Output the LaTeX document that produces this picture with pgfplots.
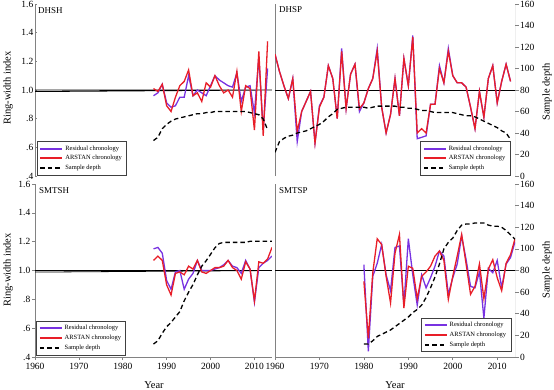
\documentclass[border=0pt]{standalone}
\usepackage{fontspec}
\setmainfont{Liberation Serif}
\usepackage{pgfplots}
\pgfplotsset{compat=1.18}
\usepackage{pgfplotstable}
\definecolor{purp}{RGB}{120,50,225}
\definecolor{redl}{RGB}{232,30,40}
\definecolor{axg}{RGB}{130,130,130}

\pgfplotstableread{
year ars res
1987 1.01 0.96
1988 0.99 0.98
1989 1.04 1.04
1990 0.89 0.91
1991 0.85 0.88
1992 0.95 0.89
1993 1.03 0.95
1994 1.06 0.95
1995 1.14 1.10
1996 0.96 0.96
1997 0.98 1.00
1998 0.92 0.98
1999 1.05 0.96
2000 1.02 1.03
2001 1.10 1.10
2002 1.03 1.07
2003 0.98 1.05
2004 1.00 1.03
2005 0.95 1.02
2006 1.13 1.12
2007 0.85 0.92
2008 1.03 1.02
2009 1.01 1.03
2010 0.72 0.84
2011 1.27 1.23
2012 0.68 0.72
2013 1.34 1.15
}\dhsh
\pgfplotstableread{
year depth
1987 33
1988 36
1989 44
1990 48
1991 51
1992 53
1993 54
1994 55
1995 56
1996 57
1997 58
1998 58
1999 59
2000 59
2001 60
2002 60
2003 60
2004 60
2005 60
2006 60
2007 60
2008 60
2009 59
2010 58
2011 57
2012 53
2013 43
}\dhshd
\pgfplotstableread{
year ars res
1960 1.25 1.25
1961 1.13 1.13
1962 1.03 1.03
1963 0.94 0.94
1964 1.08 1.08
1965 0.71 0.64
1966 0.85 0.85
1967 0.92 0.92
1968 0.99 0.99
1969 0.63 0.63
1970 0.88 0.89
1971 0.95 0.95
1972 1.17 1.17
1973 1.08 1.08
1974 0.80 0.80
1975 1.27 1.29
1976 0.87 0.87
1977 1.11 1.11
1978 1.18 1.18
1979 0.87 0.85
1980 0.91 0.91
1981 1.01 1.01
1982 1.08 1.08
1983 1.27 1.29
1984 0.88 0.88
1985 0.70 0.70
1986 0.83 0.83
1987 1.08 1.08
1988 0.82 0.82
1989 1.22 1.22
1990 1.03 1.03
1991 1.37 1.38
1992 0.70 0.66
1993 0.73 0.67
1994 0.70 0.68
1995 0.90 0.90
1996 0.90 0.90
1997 1.15 1.17
1998 1.05 1.05
1999 1.27 1.29
2000 1.10 1.10
2001 1.05 1.05
2002 1.05 1.05
2003 1.02 1.02
2004 0.88 0.88
2005 0.73 0.73
2006 0.99 0.99
2007 0.81 0.81
2008 1.08 1.08
2009 1.17 1.17
2010 0.91 0.91
2011 1.06 1.06
2012 1.18 1.18
2013 1.06 1.06
}\dhsp
\pgfplotstableread{
year depth
1960 22
1961 32
1962 35
1963 37
1964 38
1965 40
1966 41
1967 42
1968 44
1969 46
1970 48
1971 51
1972 55
1973 58
1974 62
1975 63
1976 64
1977 64
1978 64
1979 64
1980 64
1981 63
1982 64
1983 65
1984 65
1985 65
1986 65
1987 65
1988 64
1989 64
1990 63
1991 63
1992 62
1993 61
1994 61
1995 60
1996 59
1997 59
1998 59
1999 59
2000 59
2001 58
2002 57
2003 56
2004 56
2005 55
2006 53
2007 51
2008 49
2009 47
2010 45
2011 42
2012 40
2013 34
}\dhspd
\pgfplotstableread{
year ars res
1987 1.07 1.15
1988 1.10 1.16
1989 1.07 1.12
1990 0.90 0.93
1991 0.83 0.87
1992 0.98 0.99
1993 0.99 1.00
1994 0.97 0.87
1995 1.03 0.94
1996 1.01 0.98
1997 1.07 1.07
1998 0.99 1.00
1999 0.98 1.00
2000 1.00 1.00
2001 1.02 1.01
2002 1.02 1.02
2003 1.03 1.04
2004 1.07 1.07
2005 1.02 1.03
2006 1.00 1.02
2007 0.94 0.98
2008 1.06 1.07
2009 1.01 1.01
2010 0.79 0.78
2011 1.06 1.02
2012 1.05 1.05
2013 1.08 1.07
2014 1.16 1.10
}\smtsh
\pgfplotstableread{
year depth
1987 12
1988 15
1989 22
1990 28
1991 32
1992 37
1993 42
1994 52
1995 60
1996 67
1997 76
1998 84
1999 89
2000 95
2001 101
2002 105
2003 106
2004 106
2005 106
2006 106
2007 106
2008 106
2009 107
2010 107
2011 107
2012 107
2013 107
2014 107
}\smtshd
\pgfplotstableread{
year ars res
1980 0.925 1.04
1981 0.53 0.44
1982 0.985 0.96
1983 1.22 1.05
1984 1.18 1.18
1985 0.96 0.97
1986 0.775 0.86
1987 1.12 1.16
1988 1.25 1.17
1989 0.74 0.76
1990 1.03 1.22
1991 1.015 0.97
1992 0.805 0.76
1993 0.96 0.97
1994 0.99 0.88
1995 1.03 0.95
1996 1.10 1.03
1997 1.135 1.135
1998 1.07 1.10
1999 0.80 0.835
2000 0.96 0.95
2001 1.10 1.045
2002 1.25 1.24
2003 1.045 1.075
2004 0.835 0.89
2005 0.89 0.88
2006 1.045 0.99
2007 0.805 0.67
2008 1.01 1.015
2009 1.075 0.985
2010 0.95 1.07
2011 0.86 0.88
2012 1.05 1.045
2013 1.11 1.09
2014 1.22 1.20
}\smtsp
\pgfplotstableread{
year depth
1980 12
1981 12
1982 15
1983 19
1984 21
1985 23
1986 25
1987 28
1988 31
1989 34
1990 37
1991 41
1992 44
1993 48
1994 55
1995 64
1996 74
1997 86
1998 100
1999 106
2000 110
2001 117
2002 122
2003 123
2004 123
2005 124
2006 124
2007 124
2008 122
2009 121
2010 121
2011 120
2012 117
2013 113
2014 109
}\smtspd

\pgfplotsset{
  legend image code/.code={\draw[#1] (0bp,0bp) -- (22bp,0bp);},
  legend cell align=left,
  every axis legend/.append style={font=\fontsize{6.5}{7.5}\selectfont, draw=black!75,
      inner xsep=2.5bp, inner ysep=2bp, row sep=-0.3bp,
      /tikz/every even column/.append style={column sep=4bp}},
  base/.style={scale only axis, xmin=1960, xmax=2014,
    axis line style={draw=none},
    tick style={axg, line width=0.6bp},
    ticklabel style={font=\fontsize{9.5}{10}\selectfont},
    /pgf/number format/assume math mode=true,
    /pgf/number format/1000 sep={}},
  idx/.style={base, ymin=0.4, ymax=1.6},
  dep/.style={base, ymin=0, ymax=160, xtick=\empty},
  lefty/.style={ytick={0.4,0.6,...,1.61}, yticklabels={.4,.6,.8,1.0,1.2,1.4,1.6},
    ytick pos=left, tick align=inside, major tick length=2bp,
    yticklabel style={inner sep=1.5bp}},
  righty/.style={ytick={0,20,...,160}, ytick pos=right, yticklabel pos=right,
    tick align=outside, major tick length=3.5bp, yticklabel style={inner sep=1.5bp}},
  botx/.style={xtick={1960,1970,...,2010}, xtick pos=bottom, tick align=outside, major tick length=3bp},
}

\begin{document}
\begin{tikzpicture}
\path[use as bounding box] (0,0) rectangle (554bp,-390bp);

% ---------------- DHSH (top-left)
\begin{axis}[idx, lefty, xtick=\empty, at={(35bp,-4bp)}, anchor=north west, width=237bp, height=172bp]
\draw[axg, line width=0.7bp] (rel axis cs:0,0) -- (rel axis cs:0,1);
\draw[axg, line width=0.7bp] (rel axis cs:1,0) -- (rel axis cs:1,1);
\draw[black, line width=0.8bp] (axis cs:1960,1) -- (axis cs:2014,1) -- ++(3bp,0);
\addplot[purp, line width=1.3bp, no marks] table[x=year, y=res] {\dhsh};
\addplot[redl, line width=1.3bp, no marks] table[x=year, y=ars] {\dhsh};
\end{axis}
\begin{axis}[dep, ytick=\empty, legend style={at={(0.008,0.005)}, anchor=south west},
  at={(35bp,-4bp)}, anchor=north west, width=237bp, height=172bp]
\addlegendimage{purp, line width=1.8bp}\addlegendentry{Residual chronology}
\addlegendimage{redl, line width=1.8bp}\addlegendentry{ARSTAN chronology}
\addplot[black, line width=1.3bp, no marks, dash pattern=on 4.5bp off 3bp,
  forget plot] table[x=year, y=depth] {\dhshd};
\addlegendimage{black, line width=1.8bp, dash pattern=on 4.5bp off 3bp}
\addlegendentry{Sample depth}
\end{axis}

% ---------------- DHSP (top-right)
\begin{axis}[idx, ytick=\empty, xtick=\empty, at={(275bp,-4bp)}, anchor=north west, width=240bp, height=172bp]
\draw[axg, line width=0.7bp] (rel axis cs:0,0) -- (rel axis cs:0,1);
\draw[axg, line width=0.7bp] (rel axis cs:1,0) -- (rel axis cs:1,1);
\draw[black, line width=0.8bp] (axis cs:1960,1) -- (axis cs:2014,1);
\addplot[purp, line width=1.3bp, no marks] table[x=year, y=res] {\dhsp};
\addplot[redl, line width=1.3bp, no marks] table[x=year, y=ars] {\dhsp};
\end{axis}
\begin{axis}[dep, righty, legend style={at={(0.979,0.005)}, anchor=south east},
  at={(275bp,-4bp)}, anchor=north west, width=240bp, height=172bp]
\addlegendimage{purp, line width=1.8bp}\addlegendentry{Residual chronology}
\addlegendimage{redl, line width=1.8bp}\addlegendentry{ARSTAN chronology}
\addplot[black, line width=1.3bp, no marks, dash pattern=on 4.5bp off 3bp,
  forget plot] table[x=year, y=depth] {\dhspd};
\addlegendimage{black, line width=1.8bp, dash pattern=on 4.5bp off 3bp}
\addlegendentry{Sample depth}
\end{axis}

% ---------------- SMTSH (bottom-left)
\begin{axis}[idx, lefty, botx, at={(35bp,-184bp)}, anchor=north west, width=237bp, height=173bp]
\draw[axg, line width=0.7bp] (rel axis cs:0,0) -- (rel axis cs:0,1);
\draw[axg, line width=0.7bp] (rel axis cs:1,0) -- (rel axis cs:1,1);
\draw[axg, line width=0.7bp] (rel axis cs:0,0) -- (rel axis cs:1,0);
\draw[black, line width=0.8bp] (axis cs:1960,1) -- (axis cs:2014,1) -- ++(3bp,0);
\addplot[purp, line width=1.3bp, no marks] table[x=year, y=res] {\smtsh};
\addplot[redl, line width=1.3bp, no marks] table[x=year, y=ars] {\smtsh};
\end{axis}
\begin{axis}[dep, ytick=\empty, legend style={at={(0.005,0.012)}, anchor=south west},
  at={(35bp,-184bp)}, anchor=north west, width=237bp, height=173bp]
\addlegendimage{purp, line width=1.8bp}\addlegendentry{Residual chronology}
\addlegendimage{redl, line width=1.8bp}\addlegendentry{ARSTAN chronology}
\addplot[black, line width=1.3bp, no marks, dash pattern=on 4.5bp off 3bp,
  forget plot] table[x=year, y=depth] {\smtshd};
\addlegendimage{black, line width=1.8bp, dash pattern=on 4.5bp off 3bp}
\addlegendentry{Sample depth}
\end{axis}

% ---------------- SMTSP (bottom-right)
\begin{axis}[idx, ytick=\empty, botx, at={(275bp,-184bp)}, anchor=north west, width=240bp, height=173bp]
\draw[axg, line width=0.7bp] (rel axis cs:0,0) -- (rel axis cs:0,1);
\draw[axg, line width=0.7bp] (rel axis cs:1,0) -- (rel axis cs:1,1);
\draw[axg, line width=0.7bp] (rel axis cs:0,0) -- (rel axis cs:1,0);
\draw[black, line width=0.8bp] (axis cs:1960,1) -- (axis cs:2014,1);
\addplot[purp, line width=1.3bp, no marks] table[x=year, y=res] {\smtsp};
\addplot[redl, line width=1.3bp, no marks] table[x=year, y=ars] {\smtsp};
\end{axis}
\begin{axis}[dep, righty, legend style={at={(0.983,0.03)}, anchor=south east},
  at={(275bp,-184bp)}, anchor=north west, width=240bp, height=173bp]
\addlegendimage{purp, line width=1.8bp}\addlegendentry{Residual chronology}
\addlegendimage{redl, line width=1.8bp}\addlegendentry{ARSTAN chronology}
\addplot[black, line width=1.3bp, no marks, dash pattern=on 4.5bp off 3bp,
  forget plot] table[x=year, y=depth] {\smtspd};
\addlegendimage{black, line width=1.8bp, dash pattern=on 4.5bp off 3bp}
\addlegendentry{Sample depth}
\end{axis}

% ---------------- labels
\node[font=\fontsize{9}{10}\selectfont, anchor=base west, inner sep=0] at (38bp,-13bp) {DHSH};
\node[font=\fontsize{9}{10}\selectfont, anchor=base west, inner sep=0] at (279bp,-12.5bp) {DHSP};
\node[font=\fontsize{9}{10}\selectfont, anchor=base west, inner sep=0] at (39bp,-193.5bp) {SMTSH};
\node[font=\fontsize{9}{10}\selectfont, anchor=base west, inner sep=0] at (279bp,-193bp) {SMTSP};
\node[font=\fontsize{10.5}{12}\selectfont, rotate=90, inner sep=0] at (8bp,-88bp) {Ring-width index};
\node[font=\fontsize{10.5}{12}\selectfont, rotate=90, inner sep=0] at (8bp,-270bp) {Ring-width index};
\node[font=\fontsize{10.5}{12}\selectfont, rotate=90, inner sep=0] at (547bp,-92bp) {Sample depth};
\node[font=\fontsize{10.5}{12}\selectfont, rotate=90, inner sep=0] at (547bp,-270bp) {Sample depth};
\node[font=\fontsize{10.5}{12}\selectfont, anchor=base, inner sep=0] at (154bp,-388bp) {Year};
\node[font=\fontsize{10.5}{12}\selectfont, anchor=base, inner sep=0] at (395bp,-388bp) {Year};
\end{tikzpicture}
\end{document}
